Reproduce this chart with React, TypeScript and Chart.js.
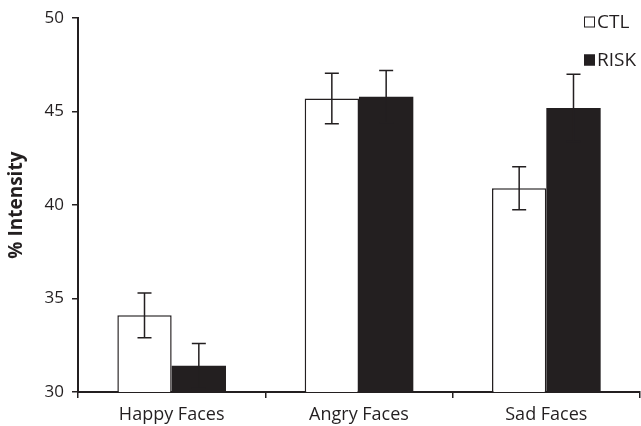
import React, { useEffect, useRef } from "react";
import { Chart, registerables } from "chart.js";

Chart.register(...registerables);

const categories = ["Happy Faces", "Angry Faces", "Sad Faces"];
const ctlValues = [34.1, 45.7, 40.9];
const ctlErrors = [1.2, 1.35, 1.15];
const riskValues = [31.4, 45.8, 45.2];
const riskErrors = [1.2, 1.4, 1.8];
const yTicks = [30, 35, 40, 45, 50];

const INK = "#231f20";
const FONT = "'Open Sans', Lato, sans-serif";

const errorBarPlugin = {
  id: "errorBars",
  afterDatasetsDraw(chart: any) {
    const ctx = chart.ctx;
    const yScale = chart.scales.y;
    chart.data.datasets.forEach((ds: any, di: number) => {
      const meta = chart.getDatasetMeta(di);
      const errs: number[] = ds.errors || [];
      meta.data.forEach((el: any, i: number) => {
        const v = ds.data[i];
        const e = errs[i];
        if (e == null) return;
        const x = el.x;
        const yTop = yScale.getPixelForValue(v + e);
        const yBot = yScale.getPixelForValue(v - e);
        const cap = 7;
        ctx.save();
        ctx.strokeStyle = INK;
        ctx.lineWidth = 1.5;
        ctx.beginPath();
        ctx.moveTo(x, yTop);
        ctx.lineTo(x, yBot);
        ctx.moveTo(x - cap, yTop);
        ctx.lineTo(x + cap, yTop);
        ctx.moveTo(x - cap, yBot);
        ctx.lineTo(x + cap, yBot);
        ctx.stroke();
        ctx.restore();
      });
    });
  },
};

const legendPlugin = {
  id: "customLegend",
  afterDraw(chart: any) {
    const ctx = chart.ctx;
    const items = chart.data.datasets.map((ds: any) => ({
      label: ds.label,
      fill: ds.backgroundColor,
    }));
    const x0 = 584;
    const ys = [22, 60];
    ctx.save();
    ctx.font = `19px ${FONT}`;
    ctx.textBaseline = "middle";
    ctx.textAlign = "left";
    items.forEach((it: any, i: number) => {
      const y = ys[i];
      ctx.fillStyle = it.fill;
      ctx.fillRect(x0, y - 5.5, 11, 11);
      ctx.strokeStyle = INK;
      ctx.lineWidth = 1;
      ctx.strokeRect(x0 + 0.5, y - 5, 10, 10);
      ctx.fillStyle = INK;
      ctx.fillText(it.label, x0 + 13, y + 1);
    });
    ctx.restore();
  },
};

export default function App() {
  const ref = useRef<HTMLCanvasElement>(null);
  useEffect(() => {
    document.body.style.margin = "0";
    const chart = new Chart(ref.current!, {
      type: "bar",
      data: {
        labels: categories,
        datasets: [
          {
            label: "CTL",
            data: ctlValues,
            errors: ctlErrors,
            backgroundColor: "#ffffff",
            borderColor: INK,
            borderWidth: 1.5,
            categoryPercentage: 0.58,
            barPercentage: 1,
          } as any,
          {
            label: "RISK",
            data: riskValues,
            errors: riskErrors,
            backgroundColor: INK,
            borderColor: INK,
            borderWidth: 0,
            categoryPercentage: 0.58,
            barPercentage: 1,
          } as any,
        ],
      },
      options: {
        animation: false,
        responsive: false,
        maintainAspectRatio: false,
        layout: { padding: { top: 16, right: 1, left: 0, bottom: 0 } },
        plugins: {
          legend: { display: false },
          tooltip: { enabled: false },
        },
        scales: {
          x: {
            offset: true,
            grid: {
              display: true,
              offset: true,
              drawOnChartArea: false,
              drawTicks: true,
              tickLength: 6,
              color: INK,
              lineWidth: 1.5,
            },
            border: { display: true, color: INK, width: 2 },
            ticks: {
              color: INK,
              font: { family: FONT, size: 18 },
              padding: 6,
            },
            afterFit(scale: any) {
              scale.height = 34;
            },
          },
          y: {
            min: 30,
            max: 50,
            afterBuildTicks(scale: any) {
              scale.ticks = yTicks.map((v) => ({ value: v }));
            },
            grid: {
              display: true,
              drawOnChartArea: false,
              drawTicks: true,
              tickLength: 6,
              color: INK,
              lineWidth: 1.5,
            },
            border: { display: true, color: INK, width: 2 },
            ticks: {
              color: INK,
              font: { family: FONT, size: 17 },
              padding: 8,
            },
            title: {
              display: true,
              text: "% Intensity",
              color: INK,
              font: { family: FONT, size: 19, weight: "bold" },
              padding: { top: 5, bottom: 0 },
            },
            afterFit(scale: any) {
              scale.width = 78;
            },
          },
        },
      },
      plugins: [errorBarPlugin, legendPlugin],
    });
    return () => chart.destroy();
  }, []);
  return (
    <div style={{ width: 641, height: 426 }}>
      <canvas ref={ref} width={641} height={426} style={{ width: 641, height: 426 }} />
    </div>
  );
}
